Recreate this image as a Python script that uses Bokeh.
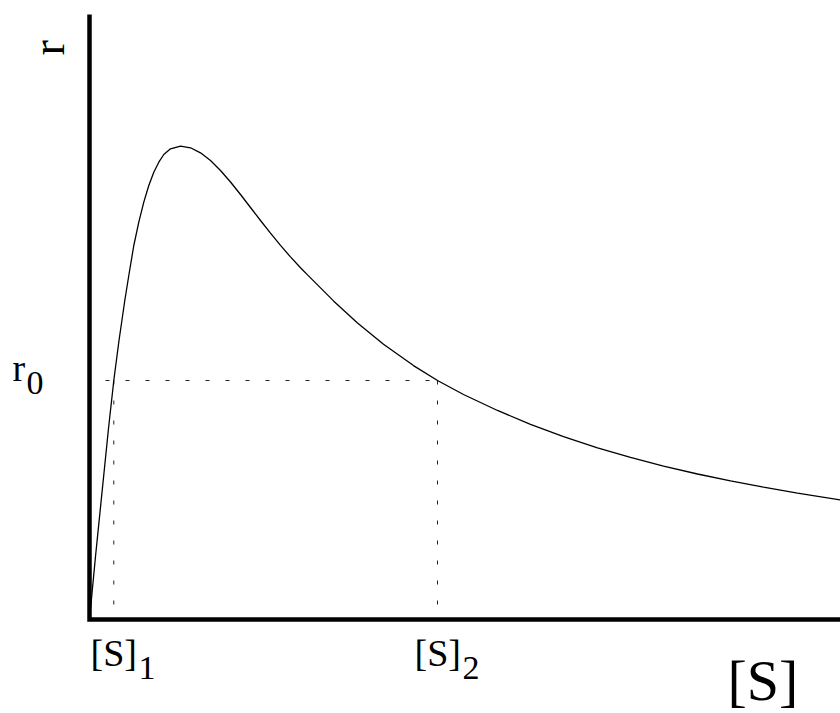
import math
from bokeh.plotting import figure
from bokeh.models import Label, Range1d
from bokeh.embed import file_html
from bokeh.resources import INLINE

# Curve: substrate concentration [S] vs rate r
S_values = [0.0, 0.0799, 0.1731, 0.2530, 0.3236, 0.3928, 0.4700, 0.5233, 0.5899, 0.6565,
            0.7230, 0.7896, 0.8562, 0.9228, 0.9893, 1.0786, 1.2117, 1.3449, 1.4780, 1.6112,
            1.7443, 1.8775, 2.0107, 2.1438, 2.2770, 2.4101, 2.5433, 2.6764, 2.8096, 2.9028,
            3.2490, 3.5686, 3.9148, 4.3142, 4.6338, 4.9800, 5.4328, 5.8722, 6.3116, 6.7643,
            7.2037, 7.6431, 8.0959, 8.5353, 8.9747, 9.4274, 10.0]
r_values = [0.0, 0.1041, 0.2182, 0.3157, 0.3950, 0.4612, 0.5273, 0.5686, 0.6182, 0.6567,
            0.6898, 0.7174, 0.7393, 0.7559, 0.7686, 0.7780, 0.7823, 0.7797, 0.7714, 0.7587,
            0.7421, 0.7231, 0.7025, 0.6810, 0.6595, 0.6385, 0.6183, 0.5993, 0.5815, 0.5696,
            0.5266, 0.4901, 0.4549, 0.4197, 0.3950, 0.3719, 0.3455, 0.3225, 0.3023, 0.2838,
            0.2679, 0.2537, 0.2405, 0.2291, 0.2187, 0.2089, 0.1975]

r0 = 0.395
S1 = 0.3236
S2 = 4.6338
S_max = 10.0
r_max = 1.0

x_label = "[S]"
y_label = "r"
r0_label = ("r", "0")
S1_label = ("[S]", "1")
S2_label = ("[S]", "2")

FONT = "'Liberation Serif', 'Times New Roman', serif"

# whole canvas is the frame so that nothing gets clipped
p = figure(width=840, height=713,
           x_range=Range1d(-1.18509, 10.0), y_range=Range1d(-0.15537, 1.02314),
           output_backend="svg", toolbar_location=None,
           min_border=0, min_border_left=0, min_border_right=0,
           min_border_top=0, min_border_bottom=0)
p.title.visible = False
p.axis.visible = False
p.outline_line_color = None
p.xgrid.visible = False
p.ygrid.visible = False
p.background_fill_color = "white"
p.border_fill_color = "white"

# dotted guides
p.line([0, S2], [r0, r0], line_color="#222222", line_width=1, line_dash="4 16", line_dash_offset=4)
p.line([S1, S1], [r0, 0], line_color="#222222", line_width=1, line_dash="4 16")
p.line([S2, S2], [r0, 0], line_color="#222222", line_width=1, line_dash="4 16")

# curve
p.line(S_values, r_values, line_color="black", line_width=1.3)

# axes
p.line([0, 0, S_max], [r_max, 0, 0], line_color="black", line_width=4.5, line_join="miter")

def lab(x, y, t, size, angle=0):
    p.add_layout(Label(x=x, y=y, text=t, text_font=FONT, text_font_size=size,
                       text_color="black", text_align="left",
                       text_baseline="alphabetic", angle=angle))

# y axis label (rotated)
lab(-0.5486, 0.9322, y_label, "46px", angle=math.pi / 2)
# r0
lab(-1.0253, r0 + 0.0202, r0_label[0], "38px")
lab(-0.8389, r0 - 0.0034, r0_label[1], "34px")
# [S]1 and [S]2
lab(S1 - 0.3103, -0.0558, S1_label[0], "38px")
lab(S1 + 0.3289, -0.0795, S1_label[1], "34px")
lab(S2 - 0.3062, -0.0558, S2_label[0], "38px")
lab(S2 + 0.3329, -0.0795, S2_label[1], "34px")
# x axis label
lab(8.4953, -0.1012, x_label, "58px")

open("out.html", "w").write(file_html(p, INLINE))
